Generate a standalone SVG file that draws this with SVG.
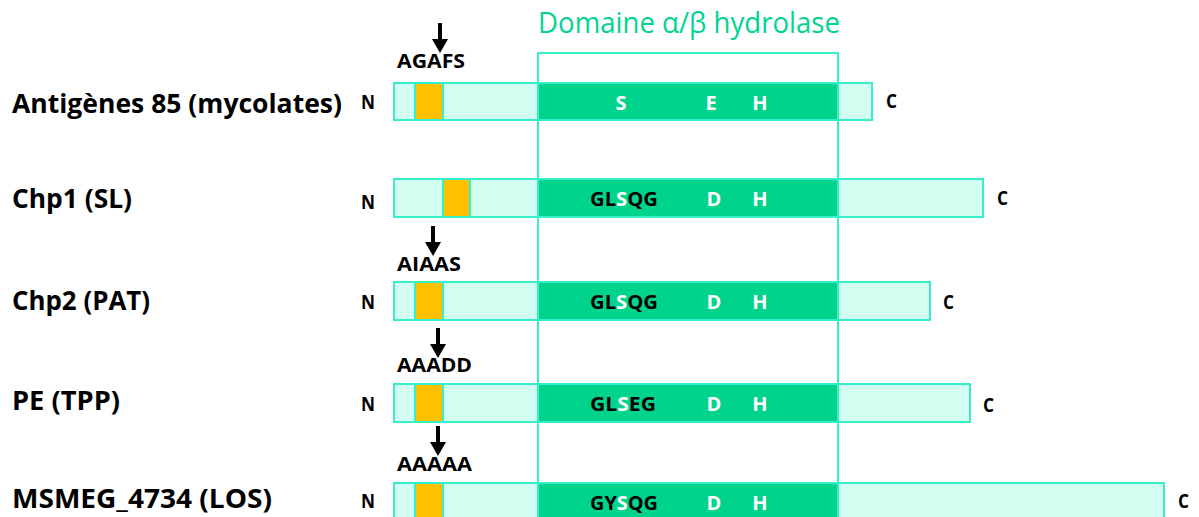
<svg xmlns="http://www.w3.org/2000/svg" width="1199" height="517" viewBox="0 0 1199 517">
<defs>
<style>
.lbl{font-family:"Open Sans","Liberation Sans",sans-serif;font-weight:bold;font-size:27px;fill:#000}
.sm{font-family:"Open Sans","Liberation Sans",sans-serif;font-weight:bold;font-size:20px;fill:#000}
.wt{fill:#fff}
.title{font-family:"Open Sans","Liberation Sans",sans-serif;font-size:29px;fill:#00D490}
.bar{fill:#D2FDF1;stroke:#35F0C8;stroke-width:2}
.sig{fill:#FFC000;stroke:#35F0C8;stroke-width:2}
.dom{fill:#00D48C;stroke:#35F0C8;stroke-width:2}
.frame{fill:none;stroke:#35F0C8;stroke-width:2}
.arr{stroke:#000;stroke-width:4;fill:none}
</style>
</defs>

<g id="domain-frame">
<rect class="frame" x="538" y="53" width="300" height="480"/>
<text class="title" x="538" y="33" textLength="302" lengthAdjust="spacingAndGlyphs">Domaine α/β hydrolase</text>
</g>

<g id="connectors">
<path class="arr" d="M440,23 V40"/><path d="M432,39 L448,39 L440,53 Z" fill="#000"/>
<path class="arr" d="M433,226 V243"/><path d="M425,242 L441,242 L433,256 Z" fill="#000"/>
<path class="arr" d="M438,328 V345"/><path d="M430,344 L446,344 L438,358 Z" fill="#000"/>
<path class="arr" d="M438,426 V443"/><path d="M430,442 L446,442 L438,456 Z" fill="#000"/>
</g>

<g id="row-ag85">
<text class="lbl" x="12" y="113" textLength="330" lengthAdjust="spacingAndGlyphs">Antigènes 85 (mycolates)</text>
<text class="sm" x="361" y="109" textLength="14" lengthAdjust="spacingAndGlyphs">N</text>
<rect class="bar" x="394" y="83" width="478" height="37"/>
<rect class="sig" x="415" y="83" width="28" height="37"/>
<rect class="dom" x="538" y="83" width="300" height="37"/>
<text class="sm wt" x="621" y="110" text-anchor="middle">S</text>
<text class="sm wt" x="711" y="110" text-anchor="middle">E</text>
<text class="sm wt" x="760" y="110" text-anchor="middle">H</text>
<text class="sm" x="886" y="108" textLength="11" lengthAdjust="spacingAndGlyphs">C</text>
<text class="sm" x="397" y="68" textLength="68" lengthAdjust="spacingAndGlyphs">AGAFS</text>
</g>

<g id="row-chp1">
<text class="lbl" x="12" y="208" textLength="120" lengthAdjust="spacingAndGlyphs">Chp1 (SL)</text>
<text class="sm" x="361" y="209" textLength="14" lengthAdjust="spacingAndGlyphs">N</text>
<rect class="bar" x="394" y="179" width="589" height="38"/>
<rect class="sig" x="443" y="179" width="27" height="38"/>
<rect class="dom" x="538" y="179" width="300" height="38"/>
<text class="sm" x="590" y="206" textLength="68" lengthAdjust="spacingAndGlyphs">GL<tspan class="wt">S</tspan>QG</text>
<text class="sm wt" x="714" y="206" text-anchor="middle">D</text>
<text class="sm wt" x="760" y="206" text-anchor="middle">H</text>
<text class="sm" x="997" y="205" textLength="11" lengthAdjust="spacingAndGlyphs">C</text>
</g>

<g id="row-chp2">
<text class="lbl" x="12" y="310" textLength="138" lengthAdjust="spacingAndGlyphs">Chp2 (PAT)</text>
<text class="sm" x="361" y="309" textLength="14" lengthAdjust="spacingAndGlyphs">N</text>
<rect class="bar" x="394" y="282" width="536" height="38"/>
<rect class="sig" x="415" y="282" width="28" height="38"/>
<rect class="dom" x="538" y="282" width="300" height="38"/>
<text class="sm" x="590" y="309" textLength="68" lengthAdjust="spacingAndGlyphs">GL<tspan class="wt">S</tspan>QG</text>
<text class="sm wt" x="714" y="309" text-anchor="middle">D</text>
<text class="sm wt" x="760" y="309" text-anchor="middle">H</text>
<text class="sm" x="943" y="309" textLength="11" lengthAdjust="spacingAndGlyphs">C</text>
<text class="sm" x="397" y="271" textLength="64" lengthAdjust="spacingAndGlyphs">AIAAS</text>
</g>

<g id="row-pe">
<text class="lbl" x="12" y="410" textLength="108" lengthAdjust="spacingAndGlyphs">PE (TPP)</text>
<text class="sm" x="361" y="411" textLength="14" lengthAdjust="spacingAndGlyphs">N</text>
<rect class="bar" x="394" y="384" width="576" height="38"/>
<rect class="sig" x="415" y="384" width="28" height="38"/>
<rect class="dom" x="538" y="384" width="300" height="38"/>
<text class="sm" x="590" y="411" textLength="66" lengthAdjust="spacingAndGlyphs">GL<tspan class="wt">S</tspan>EG</text>
<text class="sm wt" x="714" y="411" text-anchor="middle">D</text>
<text class="sm wt" x="760" y="411" text-anchor="middle">H</text>
<text class="sm" x="983" y="412" textLength="11" lengthAdjust="spacingAndGlyphs">C</text>
<text class="sm" x="397" y="372" textLength="75" lengthAdjust="spacingAndGlyphs">AAADD</text>
</g>

<g id="row-msmeg">
<text class="lbl" x="12" y="508" textLength="260" lengthAdjust="spacingAndGlyphs">MSMEG_4734 (LOS)</text>
<text class="sm" x="361" y="508" textLength="14" lengthAdjust="spacingAndGlyphs">N</text>
<rect class="bar" x="394" y="483" width="770" height="40"/>
<rect class="sig" x="415" y="483" width="28" height="40"/>
<rect class="dom" x="538" y="483" width="300" height="40"/>
<text class="sm" x="590" y="510" textLength="68" lengthAdjust="spacingAndGlyphs">GY<tspan class="wt">S</tspan>QG</text>
<text class="sm wt" x="714" y="510" text-anchor="middle">D</text>
<text class="sm wt" x="760" y="510" text-anchor="middle">H</text>
<text class="sm" x="1178" y="508" textLength="11" lengthAdjust="spacingAndGlyphs">C</text>
<text class="sm" x="397" y="471" textLength="75" lengthAdjust="spacingAndGlyphs">AAAAA</text>
</g>
</svg>
